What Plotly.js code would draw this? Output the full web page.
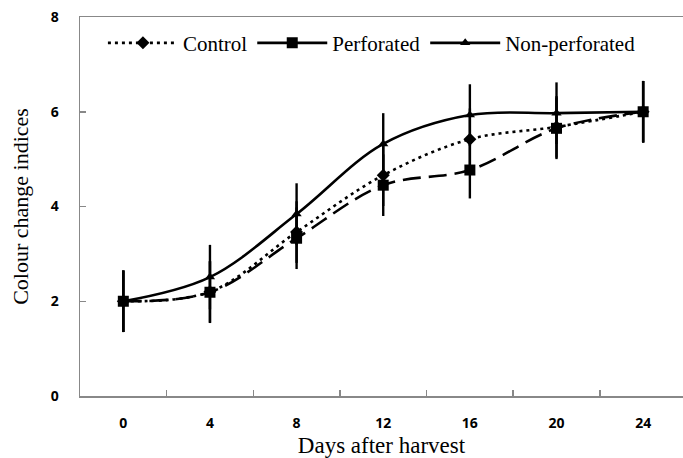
<!DOCTYPE html>
<html>
<head>
<meta charset="utf-8">
<script src="https://cdn.plot.ly/plotly-3.0.1.min.js"></script>
<style>html,body{margin:0;padding:0;background:#fff;}#chart{width:683px;height:458px;}</style>
</head>
<body>
<div id="chart"></div>
<script>
const days = ["0", "4", "8", "12", "16", "20", "24"];
const control = [2.0, 2.2, 3.46, 4.66, 5.42, 5.68, 6.0];
const perforated = [2.0, 2.19, 3.33, 4.45, 4.77, 5.65, 6.0];
const nonPerforated = [2.0, 2.51, 3.84, 5.32, 5.93, 5.97, 6.0];
const controlErr = [0.65, 0.65, 0.65, 0.65, 0.65, 0.65, 0.65];
const perforatedErr = [0.65, 0.65, 0.65, 0.65, 0.6, 0.65, 0.65];
const nonPerforatedErr = [0.65, 0.68, 0.65, 0.65, 0.65, 0.65, 0.65];
const yTicks = [0, 2, 4, 6, 8];

const serif = "Liberation Serif, Times New Roman, serif";
const errStyle = (arr) => ({type: "data", array: arr, visible: true, color: "#000", thickness: 2.4, width: 0});

const traces = [
  {x: days, y: nonPerforated, name: "Non-perforated", legendrank: 3, mode: "lines+markers",
   line: {shape: "spline", smoothing: 1, color: "#000", width: 2.6},
   marker: {symbol: "triangle-up", size: 9, color: "#000"}, error_y: errStyle(nonPerforatedErr)},
  {x: days, y: control, name: "Control", legendrank: 1, mode: "lines+markers",
   line: {shape: "spline", smoothing: 1, color: "#000", width: 2.6, dash: "3px,4px"},
   marker: {symbol: "diamond", size: 10, color: "#000"}, error_y: errStyle(controlErr)},
  {x: days, y: perforated, name: "Perforated", legendgroup: "perf", showlegend: false, mode: "lines+markers",
   line: {shape: "spline", smoothing: 1, color: "#000", width: 2.6, dash: "18px,8px"},
   marker: {symbol: "square", size: 11, color: "#000"}, error_y: errStyle(perforatedErr)},
  // legend entry for Perforated (the reference legend shows a solid key)
  {x: [null], y: [null], name: "Perforated", legendgroup: "perf", legendrank: 2, mode: "lines+markers",
   line: {color: "#000", width: 2.6}, marker: {symbol: "square", size: 11, color: "#000"}}
];

const layout = {
  width: 683, height: 458,
  margin: {l: 80, r: 0, t: 17, b: 62},
  paper_bgcolor: "#fff", plot_bgcolor: "#fff",
  showlegend: true,
  legend: {orientation: "h", x: 0.038, y: 0.985, xanchor: "left", yanchor: "top", itemwidth: 70,
           font: {family: serif, size: 21, color: "#000"}, bgcolor: "rgba(0,0,0,0)", traceorder: "normal"},
  xaxis: {
    type: "category", categoryorder: "array", categoryarray: days,
    range: [-0.5, 6.46], tickson: "boundaries", ticks: "inside", ticklen: 6, tickwidth: 1.5, tickcolor: "#888",
    showline: true, linecolor: "#888", linewidth: 1.5, mirror: true, showgrid: false, zeroline: false,
    tickfont: {family: "Open Sans, sans-serif", size: 14, color: "#000", weight: "bold"},
    ticklabelstandoff: 14,
    title: {text: "Days after harvest", font: {family: serif, size: 23, color: "#000"}, standoff: 7}
  },
  yaxis: {
    range: [0, 8], tickvals: yTicks, ticks: "inside", ticklen: 6, tickwidth: 1.5, tickcolor: "#888",
    showline: true, linecolor: "#888", linewidth: 1.5, showgrid: false, zeroline: false,
    tickfont: {family: "Open Sans, sans-serif", size: 14, color: "#000", weight: "bold"},
    ticklabelstandoff: 17,
    title: {text: "Colour change indices", font: {family: serif, size: 22, color: "#000"}, standoff: 16}
  }
};

Plotly.newPlot("chart", traces, layout, {displayModeBar: false, staticPlot: true});
</script>
</body>
</html>
